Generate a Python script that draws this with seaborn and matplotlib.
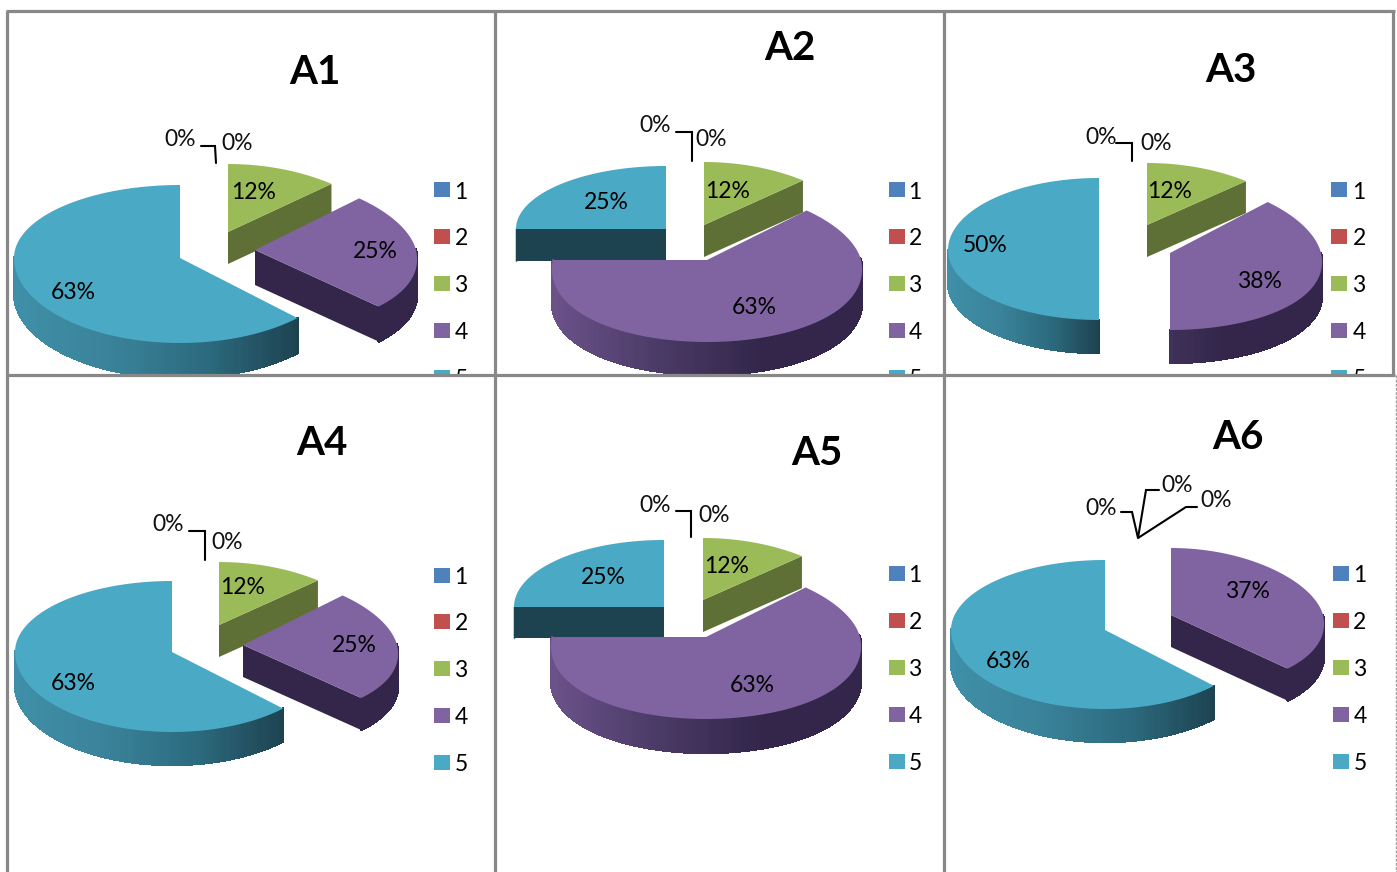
import numpy as np
import matplotlib
matplotlib.use('Agg')
import matplotlib.pyplot as plt
from matplotlib.collections import PolyCollection
from matplotlib.patches import Rectangle
import seaborn as sns

# share of each answer 1-5, one list per chart
A1 = [0, 0, 12.49, 25, 62.51]
A2 = [0, 0, 12.49, 62.51, 25]
A3 = [0, 0, 12.49, 37.51, 50]
A4 = [0, 0, 12.49, 25, 62.51]
A5 = [0, 0, 12.49, 62.51, 25]
A6 = [0, 0, 0, 37.49, 62.51]
legend_names = ['1', '2', '3', '4', '5']
chart_names = ['A1', 'A2', 'A3', 'A4', 'A5', 'A6']
chart_values = [A1, A2, A3, A4, A5, A6]

top_colors = ['#4f81bd', '#c0504d', '#9bbb59', '#8064a2', '#4aa9c4']
cut_colors = [None, None, '#5f7036', '#33264a', '#1d4250']
wall_colors = [None, None,
               ['#6d8540', '#5f7036'],
               ['#6a5188', '#4a3a66', '#33264a', '#33264a'],
               ['#3f8fa8', '#3a8299', '#2c6b7f', '#1d4250']]

# where things sit on the page, in pixels
# wedge: series -> (apex x, apex y, rx, ry up, ry down, depth)
layout = {
    'A1': {'wedges': {2: (228, 232, 160, 68, 68, 32), 3: (255, 250, 161, 73, 80, 35), 4: (180, 258, 166, 73, 85, 35)},
           'title': (315, 70), 'legend': (442, 461, 190, 46.9),
           'labels': {2: (254, 190), 3: (375, 249), 4: (73, 290)},
           'zeros': [(180, 138), (237, 142)], 'leaders': [[(201, 146), (215, 146), (216, 163)]]},
    'A2': {'wedges': {2: (704, 225, 153, 63, 63, 32), 3: (707, 260, 154, 70, 82, 33), 4: (666, 229, 150, 63, 63, 32)},
           'title': (790, 47), 'legend': (897, 915, 190, 46.9),
           'labels': {2: (728, 189), 3: (754, 305), 4: (606, 200)},
           'zeros': [(655, 124), (711, 138)], 'leaders': [[(676, 132), (692, 132), (692, 161)]]},
    'A3': {'wedges': {2: (1147, 225, 153, 62, 62, 32), 3: (1170, 253, 151, 72, 77, 33), 4: (1099, 250, 151, 72, 70, 33)},
           'title': (1231, 68), 'legend': (1339, 1359, 190, 46.9),
           'labels': {2: (1170, 189), 3: (1259, 279), 4: (985, 243)},
           'zeros': [(1101, 135), (1156, 141)], 'leaders': [[(1116, 143), (1132, 143), (1132, 161)]]},
    'A4': {'wedges': {2: (219, 625, 153, 63, 63, 32), 3: (243, 645, 154, 70, 75, 32), 4: (172, 652, 157, 71, 80, 33)},
           'title': (322, 441), 'legend': (442, 461, 575, 46.9),
           'labels': {2: (243, 585), 3: (354, 643), 4: (73, 681)},
           'zeros': [(168, 522), (227, 540)], 'leaders': [[(189, 531), (205, 531), (205, 560)]]},
    'A5': {'wedges': {2: (703, 600, 153, 62, 62, 32), 3: (706, 637, 154, 70, 82, 34), 4: (664, 607, 150, 67, 67, 31)},
           'title': (817, 451), 'legend': (897, 915, 573, 47),
           'labels': {2: (727, 564), 3: (752, 683), 4: (603, 575)},
           'zeros': [(655, 503), (714, 513)], 'leaders': [[(676, 511), (691, 511), (691, 537)]]},
    'A6': {'wedges': {3: (1171, 615, 152, 67, 76, 32), 4: (1105, 630, 154, 70, 79, 33)},
           'title': (1238, 435), 'legend': (1341, 1360, 573, 47),
           'labels': {3: (1247, 589), 4: (1008, 659)},
           'zeros': [(1101, 506), (1177, 483), (1216, 498)],
           'leaders': [[(1121, 512), (1132, 512), (1138, 538), (1146, 490), (1159, 490)],
                       [(1138, 538), (1186, 507), (1197, 507)]]},
}
PERSPECTIVE = {2: 0.12, 3: 0.12, 4: 0.0}
draw_order = [2, 4, 3]
TEXT_DROP = 2

sns.set_theme(style='white')
plt.rcParams['font.family'] = ['Lato', 'DejaVu Sans']

fig = plt.figure(figsize=(13.97, 8.72), dpi=100)
ax = fig.add_axes([0, 0, 1, 1])
ax.set_xlim(0, 1397)
ax.set_ylim(872, 0)
ax.axis('off')


def rim(geo, series, angles):
    cx, cy, rx, up, down, depth = geo
    t = np.radians(angles)
    c = np.cos(t)
    x = cx + rx * np.sin(t) * (1 - PERSPECTIVE[series] * c)
    y = cy - np.where(c > 0, up, down) * c
    return x, y


def draw_wedge(geo, series, start, end, z):
    cx, cy, rx, up, down, depth = geo
    angles = np.linspace(start, end, 160)
    x, y = rim(geo, series, angles)

    # outer wall, front half only
    front = np.cos(np.radians(angles)) < 0
    quads = []
    mids = []
    for i in range(len(angles) - 1):
        if front[i] or front[i + 1]:
            quads.append([(x[i], y[i]), (x[i + 1], y[i + 1]), (x[i + 1], y[i + 1] + depth), (x[i], y[i] + depth)])
            mids.append((x[i] + x[i + 1]) / 2)
    if quads:
        mids = np.array(mids)
        if series == 4:
            frac = (mids - mids.min()) / max(mids.max() - mids.min(), 1)
        else:
            frac = (mids - (cx - rx)) / (2 * rx)
        shades = sns.blend_palette(wall_colors[series], 64)
        cols = [shades[int(f * 63)] for f in np.clip(frac, 0, 1)]
        ax.add_collection(PolyCollection(quads, facecolors=cols, edgecolors=cols, linewidths=1,
                                         antialiaseds=False, zorder=z))

    # flat cut faces that look towards the viewer
    for a, px, py, sign in [(start, x[0], y[0], -1), (end, x[-1], y[-1], 1)]:
        if sign * np.sin(np.radians(a)) > 1e-6:
            ax.fill([cx, px, px, cx], [cy, py, py + depth, cy + depth], color=cut_colors[series], lw=0, zorder=z)

    ax.fill(np.r_[cx, x], np.r_[cy, y], color=top_colors[series], lw=0, zorder=z + 0.5)


for n, (name, values) in enumerate(zip(chart_names, chart_values)):
    spot = layout[name]
    base = 2 if n < 3 else 12
    edges = np.r_[0, np.cumsum(values)] * 3.6
    for series in draw_order:
        if series in spot['wedges']:
            draw_wedge(spot['wedges'][series], series, edges[series], edges[series + 1], base)

    tx, ty = spot['title']
    ax.text(tx, ty + TEXT_DROP, name, fontsize=29, fontweight='bold', color='black', ha='center', va='center', zorder=base + 2)
    for series, (tx, ty) in spot['labels'].items():
        ax.text(tx, ty + TEXT_DROP, f'{values[series]:.0f}%', fontsize=16.5, color='black', ha='center', va='center', zorder=base + 2)
    for (tx, ty), value in zip(spot['zeros'], [v for v in values if v == 0]):
        ax.text(tx, ty + TEXT_DROP, f'{value}%', fontsize=16.5, color='#111111', ha='center', va='center', zorder=base + 2)
    for leader in spot['leaders']:
        ax.plot(*zip(*leader), color='black', lw=1.5, solid_joinstyle='miter', zorder=base + 2)

    box_x, text_x, first_y, step = spot['legend']
    for i, label in enumerate(legend_names):
        ly = first_y + i * step
        ax.add_patch(Rectangle((box_x - 8, ly - 7.5), 16, 15, color=top_colors[i], lw=0, zorder=base + 2))
        ax.text(text_x, ly + TEXT_DROP, label, fontsize=16.5, color='black', ha='center', va='center', zorder=base + 2)

# lower row sits on top of the upper one and cuts it off
ax.add_patch(Rectangle((0, 375), 1397, 497, color='white', lw=0, zorder=10))
ax.add_patch(Rectangle((0, 0), 6, 872, color='white', lw=0, zorder=10))

grid = dict(color='#888888', lw=2.3, zorder=30, solid_capstyle='butt')
ax.plot([6, 1395], [11, 11], **grid)
ax.plot([6, 1395], [375, 375], **grid)
for gx in [7, 495, 944]:
    ax.plot([gx, gx], [11, 872], **grid)
ax.plot([1393, 1393], [11, 375], **grid)
ax.plot([1396, 1396], [375, 872], color='#999999', lw=1, ls=(0, (2, 1)), zorder=30)

fig.savefig('out.png', dpi=100)
